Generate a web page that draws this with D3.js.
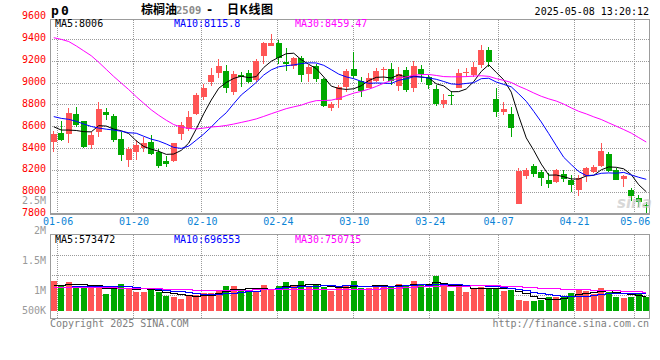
<!DOCTYPE html>
<html><head><meta charset="utf-8">
<script src="https://cdn.jsdelivr.net/npm/d3@7"></script>
<style>
body{margin:0;background:#fff}
svg{display:block}
text{font-family:"DejaVu Sans Mono",monospace;font-size:10px}
</style>
</head><body><svg id="c" width="660" height="360"></svg>
<script>
// ---------------- data ----------------
const dates = ["01-03","01-06","01-07","01-08","01-09","01-10","01-13","01-14","01-15","01-16","01-17",
"01-20","01-21","01-22","01-23","01-24","01-27",
"02-05","02-06","02-07","02-10","02-11","02-12","02-13","02-14","02-17","02-18","02-19","02-20","02-21",
"02-24","02-25","02-26","02-27","02-28",
"03-03","03-04","03-05","03-06","03-07","03-10","03-11","03-12","03-13","03-14","03-17","03-18","03-19","03-20","03-21",
"03-24","03-25","03-26","03-27","03-28","03-31",
"04-01","04-02","04-03","04-07","04-08","04-09","04-10","04-11","04-14","04-15","04-16","04-17","04-18",
"04-21","04-22","04-23","04-24","04-25","04-28","04-29","04-30",
"05-06","05-07","05-08"];

const open  = [8464,8543,8531,8717,8653,8433,8555,8732,8699,8488,8296,8372,8403,8464,8372,8290,8290,8531,8580,8717,
8876,9007,9095,9110,8921,9074,9089,9028,9251,9342,9370,9190,9156,9232,9083,9156,9040,8769,8842,8967,
9129,9022,8958,9022,9116,9126,8976,9119,8958,9129,9052,8946,8812,8894,8958,9092,9074,9165,9302,8854,
8738,8717,7897,8153,8241,8190,8113,8098,8168,8113,8022,8153,8190,8241,8351,8205,8119,8022,7946,7888];
const high  = [8562,8653,8769,8781,8655,8549,8827,8769,8714,8555,8415,8479,8510,8525,8397,8333,8452,8641,8744,8906,
8988,9141,9220,9165,9110,9104,9119,9217,9379,9446,9394,9318,9241,9248,9165,9171,9045,8824,8982,9126,
9287,9059,9089,9141,9150,9183,9150,9144,9202,9165,9074,8982,8897,8930,9129,9135,9196,9348,9327,8952,
8824,8784,8226,8226,8257,8202,8174,8214,8205,8159,8159,8235,8250,8455,8372,8220,8159,8043,7976,7915];
const low   = [8373,8470,8455,8601,8403,8397,8510,8665,8464,8287,8235,8296,8372,8342,8226,8235,8281,8479,8562,8708,
8845,8976,9049,8912,8891,8967,8998,9013,9171,9336,9171,9113,9126,9013,9007,9007,8784,8744,8769,8921,
9043,8876,8952,9013,9019,8982,8930,8921,8921,9007,8946,8790,8775,8799,8952,9052,9059,9141,9150,8693,
8708,8510,7897,8122,8144,8061,8043,8089,8098,8007,7970,8092,8174,8235,8190,8110,8052,7921,7869,7808];
const close = [8534,8479,8726,8619,8418,8525,8763,8708,8479,8342,8397,8433,8449,8354,8244,8257,8449,8616,8690,8891,
8952,9074,9156,8952,9080,9052,9007,9205,9370,9363,9232,9174,9226,9074,9150,9037,8793,8808,8961,9110,
9068,8930,9043,9110,9126,9019,9080,8937,9156,9083,8982,8808,8842,8888,9089,9101,9150,9302,9196,8738,
8763,8586,8199,8205,8168,8135,8080,8205,8126,8068,8129,8220,8235,8379,8199,8113,8150,7970,7915,7879];
const volume = [1217000,1012000,1176000,1026000,1012000,985000,944000,684000,944000,1094000,
889000,779000,766000,848000,779000,602000,561000,479000,602000,643000,
738000,738000,848000,1012000,1012000,820000,820000,820000,1053000,848000,
1012000,1176000,1012000,1217000,1012000,1053000,957000,820000,916000,1012000,
1217000,916000,944000,1053000,985000,1012000,1094000,1053000,1217000,1094000,
916000,1422000,1012000,807000,1094000,766000,916000,957000,916000,944000,
807000,848000,438000,397000,397000,438000,574000,547000,602000,738000,
875000,807000,684000,916000,779000,574000,533000,574000,684000,547000];

// moving-average values before enough in-window history exists
const priceMA5Head  = [8600,8570,8570,8566];
const priceMA10Head = [8693,8677,8668,8650,8625,8603,8588,8578,8570];
const priceMA30Head = [9415,9400,9380,9340,9295,9250,9190,9125,9060,9000,8940,8875,8815,8755,8705,8660,8620,8597,
8585,8580,8588,8598,8603,8612,8625,8640,8655,8672,8695];
const volMA5Head  = [1040000,1050000,1060000,1070000];
const volMA10Head = [960000,965000,970000,975000,980000,985000,990000,995000,1000000];
const volMA30Head = [945000,945000,944000,943000,942000,940000,938000,935000,932000,930000,925000,920000,915000,
910000,905000,880000,870000,860000,850000,845000,840000,838000,836000,835000,838000,842000,846000,850000,854000];

const priceTicks = [9600,9400,9200,9000,8800,8600,8400,8200,8000,7800];
const volTicks = [500000,1000000,1500000,2000000,2500000];
const volTickLabels = ["500K","1M","1.5M","2M","2.5M"];
const dateTicks = ["01-06","01-20","02-10","02-24","03-10","03-24","04-07","04-21","05-06"];
const priceLegend = ["MA5:8006","MA10:8115.8","MA30:8459.47"];
const volLegend = ["MA5:573472","MA10:696553","MA30:750715"];

// ---------------- layout ----------------
const svg = d3.select("#c");
const L = 50, R = 650, PT = 19.5, PB = 213.5, VT = 234.5, VB = 318.5;
const UP = "#ff5555", DOWN = "#00a800", GRID = "#9a9a9a", FRAME = "#9c9c9c";
const n = dates.length;
const idx = d3.range(n);

const x = d3.scaleBand().domain(idx).range([L, R]).paddingInner(0.2).paddingOuter(0.1);
const xg = d3.scaleLinear().domain([0, n - 1]).range([L, R]);
const y = d3.scaleLinear().domain([7800, 9600]).range([214.2, 17.5]);
const yv = d3.scaleLinear().domain([0, 3.2e6]).range([310.7, 232.7]);
const yvLabel = d3.scaleLinear().domain([5e5, 1e6, 2.5e6]).range([310.3, 290.3, 200.7]);
const crisp = v => Math.round(v - 0.5) + 0.5;
const cx = i => Math.floor(x(i) + x.bandwidth() / 2) + 0.5;

function movingAvg(vals, k, head) {
  return vals.map((v, i) => i < k - 1 ? head[i] : d3.mean(vals.slice(i - k + 1, i + 1)));
}

svg.append("rect").attr("width", 660).attr("height", 360).attr("fill", "#fff");

// grids
const g = svg.append("g").attr("shape-rendering", "crispEdges")
  .attr("stroke", GRID).attr("stroke-dasharray", "1,1").attr("stroke-width", 1);
priceTicks.filter(p => p < 9600 && p > 7800).forEach(p => {
  g.append("line").attr("x1", L).attr("x2", R).attr("y1", crisp(y(p))).attr("y2", crisp(y(p)));
});
dateTicks.map(d => dates.indexOf(d)).forEach(i => {
  if (i === n - 1) return;
  const gx = crisp(xg(i));
  g.append("line").attr("x1", gx).attr("x2", gx).attr("y1", PT).attr("y2", PB);
  g.append("line").attr("x1", gx).attr("x2", gx).attr("y1", VT).attr("y2", VB);
});
[1, 2, 3].forEach(k => {
  const gy = VT + 1 + 20 * k;
  g.append("line").attr("x1", L).attr("x2", R).attr("y1", gy).attr("y2", gy);
});

// frames
const fr = svg.append("g").attr("fill", "none").attr("stroke", FRAME).attr("shape-rendering", "crispEdges");
fr.append("rect").attr("x", 50.5).attr("y", PT).attr("width", 599).attr("height", PB - PT);
fr.append("line").attr("x1", 50).attr("x2", 650).attr("y1", 213.5).attr("y2", 213.5).attr("stroke-width", 2);
fr.append("rect").attr("x", 50.5).attr("y", VT).attr("width", 599).attr("height", VB - VT).attr("stroke-width", 1.5);

// volume bars
const colorOf = i => close[i] >= open[i] ? UP : DOWN;
svg.append("g").attr("shape-rendering", "crispEdges").selectAll("rect").data(idx).join("rect")
  .attr("x", i => x(i)).attr("width", x.bandwidth())
  .attr("y", i => yv(volume[i])).attr("height", i => yv(0) - yv(volume[i]))
  .attr("fill", colorOf);

// candles
const cg = svg.append("g").attr("shape-rendering", "crispEdges");
cg.selectAll("line").data(idx).join("line")
  .attr("x1", cx).attr("x2", cx)
  .attr("y1", i => y(high[i])).attr("y2", i => y(low[i]))
  .attr("stroke", colorOf);
cg.selectAll("rect").data(idx).join("rect")
  .attr("x", i => x(i)).attr("width", x.bandwidth())
  .attr("y", i => y(Math.max(open[i], close[i])))
  .attr("height", i => Math.max(1, Math.abs(y(open[i]) - y(close[i]))))
  .attr("fill", colorOf);

// watermark
svg.append("text").attr("x", 617).attr("y", 208).attr("fill", "#c8c8c8").attr("opacity", 0.7)
  .style("font-family", '"DejaVu Sans",sans-serif').style("font-size", "15px").style("font-style", "italic")
  .attr("font-weight", "bold").text("sina");

// price MAs
const pma = [[movingAvg(close, 5, priceMA5Head), "#000"],
             [movingAvg(close, 10, priceMA10Head), "#0000ff"],
             [movingAvg(close, 30, priceMA30Head), "#ff00ff"]];
const pline = d3.line().x((d, i) => x(i) + x.bandwidth() / 2).y(d => y(d));
pma.forEach(([vals, col]) => {
  svg.append("path").attr("d", pline(vals)).attr("fill", "none").attr("stroke", col).attr("stroke-width", 1);
});

// volume MAs
const vma = [[movingAvg(volume, 5, volMA5Head), "#000"],
             [movingAvg(volume, 10, volMA10Head), "#0000ff"],
             [movingAvg(volume, 30, volMA30Head), "#ff00ff"]];
const vline = d3.line().curve(d3.curveStep).x((d, i) => x(i) + x.bandwidth() / 2).y(d => crisp(yv(d)));
vma.forEach(([vals, col]) => {
  svg.append("path").attr("d", vline(vals)).attr("fill", "none").attr("stroke", col)
    .attr("stroke-width", 1).attr("shape-rendering", "crispEdges");
});

// axes
const ay = svg.append("g").attr("transform", `translate(${L},0)`)
  .call(d3.axisLeft(y).tickValues(priceTicks).tickSize(0).tickPadding(4).tickFormat(d3.format("d")));
ay.select(".domain").remove();
ay.selectAll("text").attr("y", -1.8).attr("fill", "#f00").style("font-family", '"DejaVu Sans Mono",monospace').style("font-size", "10px");

const av = svg.append("g").attr("transform", `translate(${L},0)`)
  .call(d3.axisLeft(yvLabel).tickValues(volTicks).tickSize(0).tickPadding(4).tickFormat((d, i) => volTickLabels[i]));
av.select(".domain").remove();
av.selectAll("text").attr("fill", "#9a9a9a").style("font-family", '"DejaVu Sans Mono",monospace').style("font-size", "10px");

const ax = svg.append("g").attr("transform", `translate(0,214)`)
  .call(d3.axisBottom(xg).tickValues(dateTicks.map(d => dates.indexOf(d))).tickSize(0).tickPadding(4)
    .tickFormat(i => dates[i]));
ax.select(".domain").remove();
ax.selectAll("text").attr("fill", "#0b84d6").style("font-family", '"DejaVu Sans Mono",monospace').style("font-size", "10px");

// legends
const legCols = ["#000", "#0000ff", "#ff00ff"], legX = [55, 174, 295];
priceLegend.forEach((t, k) => svg.append("text").attr("x", legX[k]).attr("y", 27).attr("fill", legCols[k]).text(t));
volLegend.forEach((t, k) => svg.append("text").attr("x", legX[k]).attr("y", 242.5).attr("fill", legCols[k]).text(t));

// header
svg.append("text").attr("x", 51).attr("y", 15).attr("font-weight", "bold").style("font-size", "13px").text("p");
svg.append("text").attr("x", 61).attr("y", 15).attr("font-weight", "bold").style("font-size", "13px").text("0");
const title = svg.append("text").attr("y", 14);
title.append("tspan").attr("x", 141).attr("font-weight", "bold")
  .style("font-family", '"Noto Sans CJK SC",sans-serif').style("font-size", "12px").text("棕榈油");
title.append("tspan").attr("x", 176).attr("fill", "#8a8a8a").attr("font-weight", "bold")
  .style("font-size", "10.5px").text("2509");
title.append("tspan").attr("x", 206).attr("font-weight", "bold").style("font-size", "12px").text("-");
title.append("tspan").attr("x", 227).attr("font-weight", "bold")
  .style("font-family", '"Noto Sans CJK SC",sans-serif').style("font-size", "12px").style("letter-spacing", "0.6px").text("日K线图");
svg.append("text").attr("x", 649).attr("y", 15).attr("text-anchor", "end").attr("fill", "#000").text("2025-05-08 13:20:12");

// footer
svg.append("text").attr("x", 50).attr("y", 326.5).attr("fill", "#808080").text("Copyright 2025 SINA.COM");
svg.append("text").attr("x", 649).attr("y", 326.5).attr("text-anchor", "end").attr("fill", "#808080").text("http://finance.sina.com.cn");
</script>
</body></html>
